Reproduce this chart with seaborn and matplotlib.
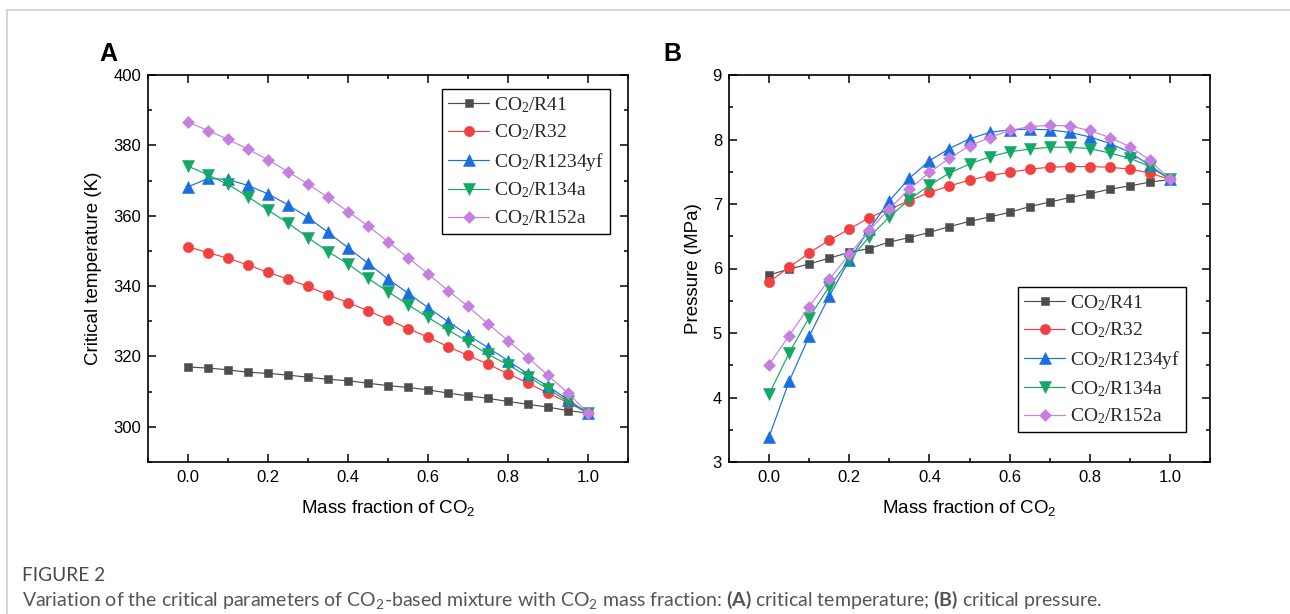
import matplotlib
matplotlib.use("Agg")
import matplotlib.pyplot as plt
from matplotlib.ticker import MultipleLocator
from matplotlib.lines import Line2D
import pandas as pd
import seaborn as sns

# CO2 mass fraction of the binary mixtures
mass_fraction = [0.00, 0.05, 0.10, 0.15, 0.20, 0.25, 0.30, 0.35, 0.40, 0.45, 0.50,
                 0.55, 0.60, 0.65, 0.70, 0.75, 0.80, 0.85, 0.90, 0.95, 1.00]

mixtures = ["R41", "R32", "R1234yf", "R134a", "R152a"]

# Critical temperature (K)
tc_r41 = [317.0, 316.7, 316.2, 315.5, 315.2, 314.7, 314.1, 313.5, 313.1, 312.4, 311.7,
          311.2, 310.5, 309.6, 308.8, 308.1, 307.2, 306.4, 305.6, 304.6, 303.9]
tc_r32 = [351.2, 349.5, 347.9, 346.0, 343.9, 342.0, 339.9, 337.5, 335.3, 333.0, 330.5,
          327.9, 325.5, 322.8, 320.3, 317.8, 315.1, 312.4, 309.6, 306.9, 303.9]
tc_r1234yf = [368.2, 370.6, 370.3, 368.6, 366.2, 363.1, 359.5, 355.3, 350.9, 346.5, 342.0,
              338.0, 333.9, 329.9, 326.1, 322.5, 318.8, 315.0, 311.5, 307.7, 303.9]
tc_r134a = [374.1, 371.6, 368.9, 365.4, 361.6, 357.9, 353.8, 349.8, 346.3, 342.2, 338.4,
            334.7, 331.1, 327.6, 324.1, 320.6, 317.6, 314.3, 310.7, 307.2, 303.9]
tc_r152a = [386.6, 384.2, 381.7, 378.9, 375.9, 372.5, 369.0, 365.2, 361.2, 357.1, 352.6,
            348.1, 343.5, 338.7, 334.2, 329.3, 324.5, 319.7, 314.6, 309.6, 303.9]

# Critical pressure (MPa)
pc_r41 = [5.90, 5.99, 6.07, 6.16, 6.25, 6.31, 6.41, 6.48, 6.56, 6.65, 6.73,
          6.80, 6.87, 6.96, 7.03, 7.10, 7.16, 7.23, 7.28, 7.34, 7.38]
pc_r32 = [5.79, 6.02, 6.24, 6.44, 6.61, 6.79, 6.92, 7.05, 7.18, 7.28, 7.37,
          7.44, 7.49, 7.54, 7.57, 7.58, 7.58, 7.57, 7.54, 7.48, 7.38]
pc_r1234yf = [3.39, 4.25, 4.95, 5.57, 6.13, 6.61, 7.05, 7.40, 7.67, 7.86, 8.01,
              8.11, 8.15, 8.16, 8.15, 8.11, 8.04, 7.94, 7.80, 7.60, 7.38]
pc_r134a = [4.05, 4.69, 5.24, 5.72, 6.13, 6.49, 6.80, 7.07, 7.29, 7.48, 7.62,
            7.73, 7.81, 7.85, 7.88, 7.88, 7.86, 7.79, 7.71, 7.58, 7.38]
pc_r152a = [4.51, 4.96, 5.41, 5.83, 6.22, 6.59, 6.93, 7.23, 7.49, 7.71, 7.90,
            8.03, 8.14, 8.20, 8.22, 8.21, 8.14, 8.03, 7.89, 7.68, 7.38]

tc_series = [tc_r41, tc_r32, tc_r1234yf, tc_r134a, tc_r152a]
pc_series = [pc_r41, pc_r32, pc_r1234yf, pc_r134a, pc_r152a]

colors = ["#4d4d4d", "#f23f3f", "#1a6fdf", "#13a865", "#c47fe0"]
markers = ["s", "o", "^", "v", "D"]
marker_sizes = [6.4, 7.4, 8.0, 8.0, 6.2]

frames = []
for name, tc, pc in zip(mixtures, tc_series, pc_series):
    frames.append(pd.DataFrame({"mixture": name, "fraction": mass_fraction,
                                "Tc": tc, "Pc": pc}))
data = pd.concat(frames, ignore_index=True)

sns.set_theme(style="white")
plt.rcParams["font.family"] = ["Liberation Sans", "DejaVu Sans"]
plt.rcParams["mathtext.default"] = "regular"
plt.rcParams["mathtext.fontset"] = "custom"
plt.rcParams["mathtext.rm"] = "Lato"
plt.rcParams["mathtext.bf"] = "Lato:bold"

W, H = 1290, 614
fig = plt.figure(figsize=(W / 100, H / 100), dpi=100)
fig.patch.set_facecolor("white")


def px_axes(x0, y0, x1, y1):
    return fig.add_axes([x0 / W, 1 - y1 / H, (x1 - x0) / W, (y1 - y0) / H])


ax_t = px_axes(148, 75, 628, 462)
ax_p = px_axes(729, 75, 1210, 462)

for ax, col in [(ax_t, "Tc"), (ax_p, "Pc")]:
    for name, c, m, ms in zip(mixtures, colors, markers, marker_sizes):
        sub = data[data["mixture"] == name]
        sns.lineplot(data=sub, x="fraction", y=col, ax=ax, color=c, marker=m,
                     markersize=ms, markeredgewidth=0.4, markeredgecolor=c,
                     linewidth=0.85, sort=False, estimator=None,
                     label=r"$\mathregular{CO_2}$/" + name)


def style_axes(ax, ylim, major, minor):
    ax.set_xlim(-0.1, 1.1)
    ax.set_ylim(*ylim)
    ax.xaxis.set_major_locator(MultipleLocator(0.2))
    ax.xaxis.set_minor_locator(MultipleLocator(0.1))
    ax.yaxis.set_major_locator(MultipleLocator(major))
    ax.yaxis.set_minor_locator(MultipleLocator(minor))
    ax.tick_params(which="both", direction="in", top=True, right=True,
                   bottom=True, left=True, color="black", width=1.1,
                   labelsize=12, labelcolor="black")
    ax.tick_params(which="major", length=5.5)
    ax.tick_params(which="minor", length=3)
    ax.tick_params(axis="x", which="major", pad=6)
    ax.tick_params(axis="y", which="major", pad=5)
    for sp in ax.spines.values():
        sp.set_visible(True)
        sp.set_color("black")
        sp.set_linewidth(1.2)
    ax.set_facecolor("white")
    ax.grid(False)
    ax.set_xlabel(r"Mass fraction of $\mathregular{CO_2}$", fontsize=13.5,
                  color="black", labelpad=9)


style_axes(ax_t, (290, 400), 20, 10)
ax_t.set_yticks([300, 320, 340, 360, 380, 400])
ax_t.set_xticks([0.0, 0.2, 0.4, 0.6, 0.8, 1.0])
ax_t.set_ylabel("Critical temperature (K)", fontsize=13.5, color="black", labelpad=8)

style_axes(ax_p, (3, 9), 1, 0.5)
ax_p.set_xticks([0.0, 0.2, 0.4, 0.6, 0.8, 1.0])
ax_p.set_ylabel("Pressure (MPa)", fontsize=13.5, color="black", labelpad=8)

legend_kw = dict(prop={"family": "Liberation Serif", "size": 14},
                 frameon=True, fancybox=False, shadow=False, framealpha=1,
                 edgecolor="black", borderpad=0.3, labelspacing=0.42,
                 handlelength=2.1, handletextpad=0.25, borderaxespad=0)

h, lab = ax_t.get_legend_handles_labels()
leg = ax_t.legend(h, lab, loc="upper right", bbox_to_anchor=(0.9625, 0.9638), **legend_kw)
leg.get_frame().set_linewidth(1.0)

h, lab = ax_p.get_legend_handles_labels()
leg = ax_p.legend(h, lab, loc="upper right", bbox_to_anchor=(0.950, 0.452), **legend_kw)
leg.get_frame().set_linewidth(1.0)

# Panel letters
fig.text(99 / W, 1 - 61 / H, "A", fontsize=18, fontweight="bold", color="black",
         ha="left", va="baseline")
fig.text(663 / W, 1 - 61 / H, "B", fontsize=18, fontweight="bold", color="black",
         ha="left", va="baseline")

# Caption
cap_font = ["Lato", "DejaVu Sans"]
fig.text(22 / W, 1 - 581 / H, "FIGURE 2", fontsize=13.7, color="#4a4a4a",
         family=cap_font, ha="left", va="baseline")
fig.text(22 / W, 1 - 606 / H,
         r"Variation of the critical parameters of $\mathregular{CO_2}$-based mixture with "
         r"$\mathregular{CO_2}$ mass fraction: $\mathbf{(A)}$ critical temperature; "
         r"$\mathbf{(B)}$ critical pressure.",
         fontsize=14, color="#555555", family=cap_font, ha="left", va="baseline")

# Page frame
fig.add_artist(Line2D([7 / W, 1], [1 - 10 / H, 1 - 10 / H], transform=fig.transFigure,
                      color="#d6d6d6", linewidth=1.5))
fig.add_artist(Line2D([7 / W, 7 / W], [0, 1 - 10 / H], transform=fig.transFigure,
                      color="#d6d6d6", linewidth=1.5))

fig.savefig("out.png", dpi=100, facecolor="white")
